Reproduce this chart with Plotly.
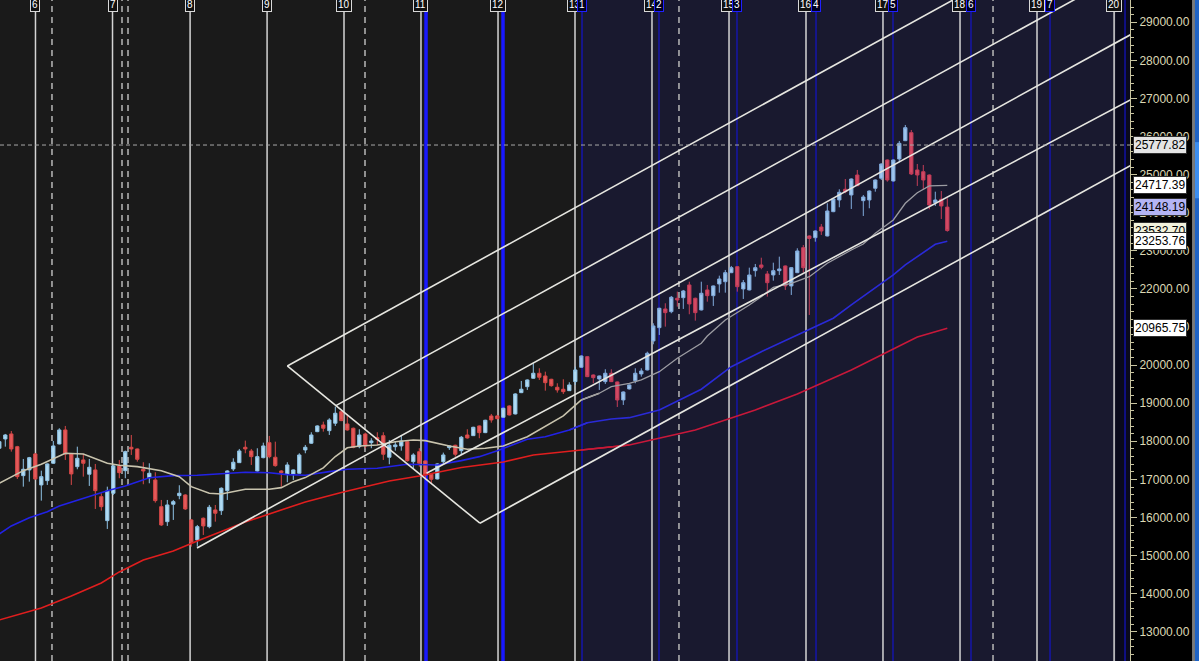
import plotly.graph_objects as go

# ---------------- data ----------------
bar = list(range(-1, 158))
open_ = [17817,18061,18193,17859,17098,17248,17668,16854,16967,17423,17930,18298,17668,17334,17510,17135,17248,16547,15917,16636,
         17353,17229,17843,17799,17266,17045,16985,16284,15890,16347,16573,16591,15935,15410,15980,15759,16198,16179,16704,17274,
         17439,17843,17746,17221,17570,17964,17581,17221,17143,17143,17161,17773,17949,18253,18429,18279,18474,18778,18455,18342,
         17859,18193,17964,18095,18148,17581,17859,17878,17990,17465,17728,17484,17135,17011,17465,17833,17896,17754,18166,18148,
         18403,18227,18665,18665,18631,18928,18718,19277,19434,19655,19786,19715,19628,19418,19366,19329,19566,19943,20222,19741,
         19636,19566,19786,19558,19085,19374,19591,19768,19873,20634,20983,21474,21403,21755,21770,22104,21755,21448,21973,21823,
         22130,22190,22427,22584,21999,21973,22479,22629,22393,22366,22479,22603,22078,22427,23083,23390,23345,23626,23390,24028,
         24335,24616,24466,24991,24317,24335,24642,24905,25385,24834,25411,25892,26102,25123,25078,24991,24264,24353,24148.19]
high_ = [18040,18193,18271,17880,17536,17590,17690,17229,17420,18009,18342,18403,17680,17859,17668,17536,17405,16636,16809,17380,
         17510,17755,18166,17810,17450,17423,17187,16460,16460,16460,16846,16610,15955,15804,16000,16329,16329,16790,17240,17554,
         17799,18017,17799,17817,17964,18140,17990,17240,17450,17260,17686,17904,18237,18420,18516,18605,18909,18823,18718,18360,
         18316,18227,18080,18237,18237,18035,17990,18166,18000,17686,17817,17500,17150,17420,17702,17890,17910,18140,18316,18380,
         18415,18565,18718,18690,18880,18945,19260,19584,19625,20048,19917,19828,19640,19523,19628,19549,19959,20255,20240,19755,
         19725,19891,19891,19570,19310,19490,19917,19917,20353,21098,21505,21623,21815,21928,21973,22190,21770,22190,22104,22090,
         22348,22498,22603,22600,22235,22558,22655,22820,22471,22689,22847,22615,22570,23067,23154,23405,23535,23705,24248,24375,
         24616,24886,24900,25123,24466,24585,24875,25295,25400,25400,25884,26304,26173,25280,25254,25005,24553,24571,24380]
low_ = [17780,17859,17728,17011,16809,16940,16990,16442,16854,17410,17920,17510,16854,17266,17072,16828,16224,16179,15699,16591,
        17030,17030,17641,17465,16872,16898,16389,15778,15778,15935,16478,16198,15234,15234,15541,15717,15890,16066,16460,17221,
        17430,17686,17379,17203,17554,17554,17334,16809,16925,16985,17150,17686,17930,18240,18253,18166,18403,18530,18279,17817,
        17817,17817,17817,17904,17510,17397,17754,17754,17465,17292,17334,17030,16898,17000,17379,17773,17597,17641,18069,18140,
        18080,18215,18489,18580,18620,18680,18705,19265,19348,19645,19610,19329,19434,19277,19243,19320,19479,19930,19685,19523,
        19348,19505,19555,18901,18954,19360,19523,19697,19860,20547,20791,21009,21361,21534,21474,21335,21167,21435,21665,21553,
        21902,21902,22415,21928,21736,21960,22322,22516,21797,22217,22366,21973,21841,22415,22427,21316,23240,23416,23380,24015,
        24143,24511,24099,24700,23915,24117,24553,24860,24815,24820,25325,25880,24991,24703,24616,24091,24178,23836,23503]
close_ = [17990,18166,17799,17072,17266,17570,17011,17072,17405,17878,18298,17668,17143,17554,17423,17318,16704,16284,16696,17353,
          17177,17728,17799,17528,17221,17161,16442,15804,16329,16416,16636,16224,15350,15759,15778,16268,16111,16767,17221,17450,
          17746,17799,17597,17597,17878,17597,17361,17177,17379,17248,17641,17843,18166,18403,18342,18560,18736,18542,18298,17843,
          18166,17878,18009,18053,17660,17896,17904,18009,17492,17641,17423,17116,17003,17405,17641,17878,17660,18106,18088,18368,
          18227,18552,18560,18594,18867,18691,19243,19366,19610,19786,19681,19539,19460,19348,19303,19479,19873,20240,19697,19670,
          19715,19786,19566,19085,19295,19479,19786,19846,20311,21028,21492,21377,21781,21710,21946,21605,21377,21886,21823,22078,
          22261,22427,22558,22059,22164,22366,22558,22568,22164,22479,22524,22078,22558,22996,22558,23324,23521,23521,24046,24361,
          24537,24553,24886,24710,24414,24571,24860,25280,24860,25385,25823,26233,25018,24991,24860,24204,24335,24178,23532.70]

ma20_bar = [-1, 1, 3, 6, 8, 10, 13, 15, 17, 19, 22, 26, 29, 31, 34, 36, 38, 40, 44, 46, 48, 50, 53, 55, 57, 59, 62, 65, 68, 70,
            74, 77, 80, 83, 87, 90, 93, 96, 99, 101, 104, 106, 109, 112, 116, 117, 120, 124, 126, 128, 131, 134, 137, 141, 143,
            145, 148, 150, 152, 154, 157]
ma20_val = [16898, 17072, 17229, 17397, 17536, 17686, 17667, 17554, 17423, 17371, 17334, 17229, 17072, 16809, 16636, 16617, 16678,
            16741, 16741, 16783, 16941, 17046, 17300, 17600, 17830, 17878, 17904, 17990, 18035, 18017, 17878, 17791, 17817, 17878,
            18121, 18384, 18665, 19085, 19261, 19434, 19523, 19610, 19828, 20180, 20573, 20765, 21185, 21579, 21797, 22043, 22148,
            22322, 22673, 23022, 23180, 23461, 23810, 24248, 24527, 24703, 24717.39]

ma50_bar = [-1, 1, 4, 7, 9, 14, 17, 20, 24, 28, 32, 40, 44, 47, 50, 54, 57, 62, 67, 72, 76, 79, 82, 87, 90, 94, 97, 101, 104,
            109, 116, 121, 126, 132, 138, 141, 148, 150, 153, 155, 157]
ma50_val = [15567, 15778, 15995, 16153, 16302, 16547, 16704, 16828, 17045, 17098, 17108, 17187, 17176, 17124, 17108, 17203, 17266,
            17292, 17397, 17379, 17492, 17597, 17754, 18053, 18121, 18298, 18489, 18586, 18620, 18823, 19366, 19959, 20353, 20791,
            21230, 21579, 22366, 22629, 22962, 23172, 23253.76]

ma200_bar = [-1, 6, 11, 16, 19, 23, 28, 32, 40, 50, 56, 64, 69, 76, 83, 88, 96, 104, 115, 125, 132, 141, 148, 152, 157]
ma200_val = [13310, 13625, 13940, 14281, 14570, 14885, 15121, 15384, 15882, 16408, 16657, 16959, 17090, 17313, 17458, 17641,
             17773, 17904, 18298, 18823, 19243, 19873, 20424, 20739, 20965.75]

# trend / channel lines: (bar0, price0, bar1, price1)
trend_lines = [
    (47.0, 19978, 187.5, 32145),
    (47.0, 19978, 79.1, 15849),
    (79.1, 15849, 187.5, 25237),
    (55.1, 18935, 187.5, 30401),
    (31.95, 15200, 187.5, 28671),
    (70.2, 17160, 187.5, 26960),
]

cycle_bar = [5.03, 17.87, 30.8, 43.63, 56.45, 69.28, 82.12, 94.95, 107.78, 120.62, 133.45, 146.28, 159.12, 171.95, 184.8]
cycle_lbl = ['6', '7', '8', '9', '10', '11', '12', '13', '14', '15', '16', '17', '18', '19', '20']
bcycle_bar = [70.12, 82.95, 96.12, 108.95, 121.95, 135.12, 147.95, 160.95, 174.12, 186.62]
bcycle_lbl = ['', '', '1', '2', '3', '4', '5', '6', '7', '']
bcycle_thick = [True, True, False, False, False, False, False, False, False, False]
dash_bar = [7.78, 19.45, 20.45, 59.95, 112.28, 164.62]

level_val = [25777.82, 24717.39, 24148.19, 23532.70, 23253.76, 20965.75]
level_bg = ['#e4e4e4', '#ffffff', '#b4b4f4', '#f2f2dc', '#ffffff', '#ffffff']

hline_val = 25777.82
split_bar = 96
session_start = 95.95
future_start = 185.1

X_RANGE = [-0.883, 187.45]
Y_RANGE = [12232, 29585]

# ---------------- figure ----------------
fig = go.Figure()

def sl(lst, a, b):
    return lst[a:b]

i_split = bar.index(split_bar)
candle_styles = [
    (0, i_split, '#b3dcf2', '#8fc3e6', '#e45a5a', '#d84848'),
    (i_split, len(bar), '#9fc6ee', '#80aadc', '#d24a64', '#c23c58'),
]
for a, b, ufill, uline, dfill, dline in candle_styles:
    fig.add_trace(go.Candlestick(
        x=sl(bar, a, b), open=sl(open_, a, b), high=sl(high_, a, b), low=sl(low_, a, b), close=sl(close_, a, b),
        increasing=dict(fillcolor=ufill, line=dict(color=uline, width=1)),
        decreasing=dict(fillcolor=dfill, line=dict(color=dline, width=1)),
        whiskerwidth=0, showlegend=False, hoverinfo='skip'))

# moving averages (split colour at session change)
def split_line(bx, vals, c_left, c_right, w_left, w_right):
    left_x = [b for b in bx if b <= split_bar]
    k = len(left_x)
    fig.add_trace(go.Scatter(x=bx[:k + 1], y=vals[:k + 1], mode='lines',
                             line=dict(color=c_left, width=w_left), showlegend=False, hoverinfo='skip'))
    fig.add_trace(go.Scatter(x=bx[k - 1:], y=vals[k - 1:], mode='lines',
                             line=dict(color=c_right, width=w_right), showlegend=False, hoverinfo='skip'))

split_line(ma200_bar, ma200_val, '#e01e1e', '#c8183a', 1.6, 1.6)
split_line(ma50_bar, ma50_val, '#2222e6', '#2a2ad8', 1.6, 1.6)
split_line(ma20_bar, ma20_val, '#c9c4ae', '#9c9ca2', 1.6, 1.3)

for b0, p0, b1, p1 in trend_lines:
    fig.add_trace(go.Scatter(x=[b0, b1], y=[p0, p1], mode='lines',
                             line=dict(color='#e6e6e0', width=1.6), showlegend=False, hoverinfo='skip'))

shapes = []
# session backgrounds
shapes.append(dict(type='rect', xref='x', yref='paper', x0=session_start, x1=future_start, y0=0, y1=1,
                   fillcolor='#19192f', line=dict(width=0), layer='below'))
shapes.append(dict(type='rect', xref='x', yref='paper', x0=future_start, x1=X_RANGE[1], y0=0, y1=1,
                   fillcolor='#0a0a1c', line=dict(width=0), layer='below'))
for xb in cycle_bar:
    shapes.append(dict(type='line', xref='x', yref='paper', x0=xb, x1=xb, y0=0, y1=1,
                       line=dict(color='#d4d4d4', width=1.5), layer='below'))
for xb in dash_bar:
    shapes.append(dict(type='line', xref='x', yref='paper', x0=xb, x1=xb, y0=0, y1=1,
                       line=dict(color='#b8b8b8', width=1.5, dash='6px,5px'), layer='below'))
for xb, thick in zip(bcycle_bar, bcycle_thick):
    shapes.append(dict(type='line', xref='x', yref='paper', x0=xb, x1=xb, y0=0, y1=1,
                       line=dict(color='#1818ff' if thick else '#1414c8', width=3.5 if thick else 1.2), layer='below'))
shapes.append(dict(type='line', xref='x', yref='y', x0=X_RANGE[0], x1=X_RANGE[1], y0=hline_val, y1=hline_val,
                   line=dict(color='#a8a8a8', width=1, dash='4px,3px'), layer='above'))
# right edge strips
shapes.append(dict(type='rect', xref='paper', yref='paper', x0=1.0549, x1=1.0575, y0=0, y1=1,
                   fillcolor='#7a7a7a', line=dict(width=0)))
shapes.append(dict(type='rect', xref='paper', yref='paper', x0=1.0575, x1=1.07, y0=0, y1=1,
                   fillcolor='#1f63c4', line=dict(width=0)))
shapes.append(dict(type='rect', xref='paper', yref='paper', x0=1.0575, x1=1.07, y0=0.70, y1=0.785,
                   fillcolor='#3c8ef0', line=dict(width=0)))

annotations = []
for xb, t in zip(cycle_bar, cycle_lbl):
    annotations.append(dict(x=xb, xref='x', y=1, yref='paper', yanchor='top', yshift=3, text=t, showarrow=False,
                            font=dict(family='Liberation Sans, Arial', size=10, color='#ffffff'),
                            bgcolor='#101010', bordercolor='#d8d8d8', borderwidth=1, borderpad=1))
for xb, t in zip(bcycle_bar, bcycle_lbl):
    if t:
        annotations.append(dict(x=xb, xref='x', y=1, yref='paper', yanchor='top', yshift=3, text=t, showarrow=False,
                                font=dict(family='Liberation Sans, Arial', size=10, color='#ffffff'),
                                bgcolor='#000020', bordercolor='#2020ff', borderwidth=1, borderpad=1))
for v, bg in zip(level_val, level_bg):
    annotations.append(dict(x=1, xref='paper', xanchor='left', xshift=3, y=v, yref='y', text=f'{v:.2f}',
                            showarrow=False, font=dict(family='Liberation Sans, Arial', size=12, color='#000000'),
                            bgcolor=bg, bordercolor='#303030', borderwidth=1, borderpad=1))

fig.update_layout(
    width=1199, height=661, autosize=False,
    margin=dict(l=0, r=69, t=0, b=0),
    paper_bgcolor='#000000', plot_bgcolor='#1a1a1a',
    hovermode=False, showlegend=False,
    shapes=shapes, annotations=annotations,
    boxgap=0.22,
    xaxis=dict(range=X_RANGE, visible=False, rangeslider=dict(visible=False), fixedrange=True),
    yaxis=dict(side='right', range=Y_RANGE, tickmode='linear', tick0=0, dtick=1000, tickformat='.2f',
               ticks='outside', ticklen=6, tickcolor='#c8c4a0', showgrid=False, zeroline=False,
               showline=True, linecolor='#c8c4a0', linewidth=1,
               tickfont=dict(family='Liberation Sans, Arial', size=12, color='#dcd8b4'),
               minor=dict(ticks='outside', ticklen=3, dtick=200, tickcolor='#c8c4a0', showgrid=False),
               fixedrange=True),
)

fig.write_html("out.html", config={'displayModeBar': False, 'staticPlot': True},
               post_script="document.body.style.margin='0';document.body.style.overflow='hidden';")
